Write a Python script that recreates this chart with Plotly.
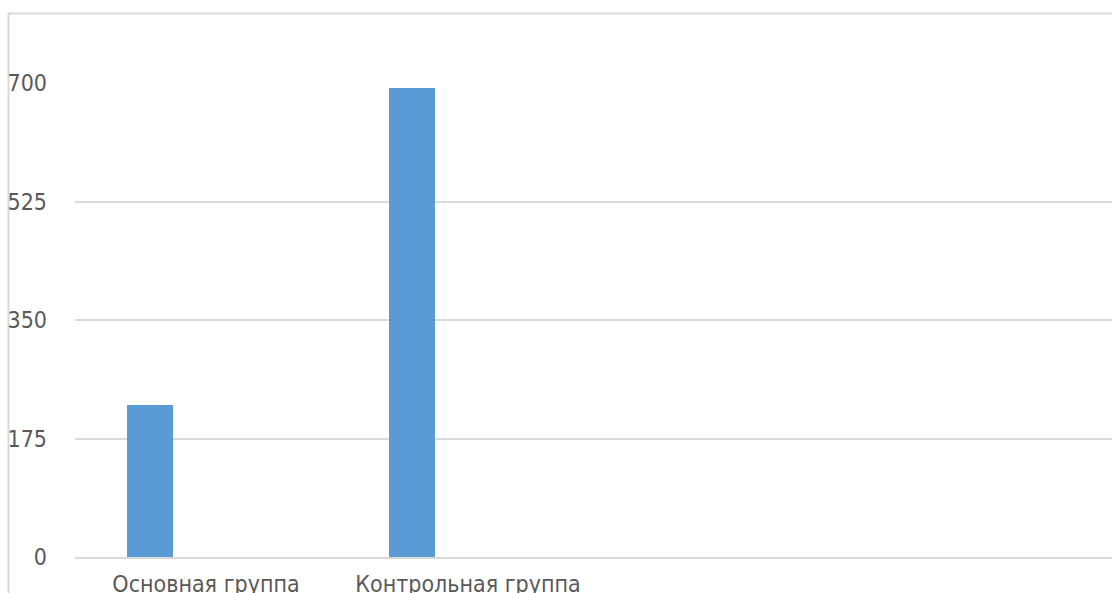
import plotly.graph_objects as go

# Data
categories = ["Основная группа", "Контрольная группа"]
values = [225, 693]
y_ticks = [0, 175, 350, 525, 700]

BAR_COLOR = "#5b9bd5"
GRID_COLOR = "#d9d9d9"
TEXT_COLOR = "#595959"
FONT = "DejaVu Sans Condensed, DejaVu Sans, sans-serif"
FONT_SIZE = 23

W, H = 1112, 593
ML, MR, MT, MB = 75, 0, 83, 36

fig = go.Figure()
fig.add_trace(go.Bar(
    x=categories,
    y=values,
    marker=dict(color=BAR_COLOR, line=dict(width=0)),
    width=0.176,
    offset=-0.302,
    hoverinfo="x+y",
))

plot_w = W - ML - MR
plot_h = H - MT - MB

# chart-area border (left and top edges visible)
fig.add_shape(
    type="rect", xref="paper", yref="paper",
    x0=(8.5 - ML) / plot_w, x1=(W + 20 - ML) / plot_w,
    y0=-(MB + 20) / plot_h, y1=(H - 13.5 - MB) / plot_h,
    line=dict(color=GRID_COLOR, width=2), layer="below",
)

fig.update_layout(
    width=W, height=H,
    margin=dict(l=ML, r=MR, t=MT, b=MB, pad=0, autoexpand=False),
    paper_bgcolor="white", plot_bgcolor="white",
    showlegend=False,
    font=dict(family=FONT, size=FONT_SIZE, color=TEXT_COLOR),
    xaxis=dict(
        type="category",
        categoryorder="array", categoryarray=categories,
        range=[-0.5, -0.5 + plot_w / 262.0],
        showgrid=False, zeroline=False,
        showline=True, linecolor=GRID_COLOR, linewidth=2,
        ticks="", ticklabelstandoff=5,
        tickfont=dict(family=FONT, size=FONT_SIZE, color=TEXT_COLOR),
        automargin=False,
        fixedrange=True,
    ),
    yaxis=dict(
        range=[0, 700],
        tickvals=y_ticks,
        ticktext=[str(v) for v in y_ticks],
        showgrid=True, gridcolor=GRID_COLOR, gridwidth=2,
        zeroline=False, showline=False,
        ticks="", ticklabelstandoff=27,
        tickfont=dict(family=FONT, size=FONT_SIZE, color=TEXT_COLOR),
        automargin=False,
        fixedrange=True,
    ),
    bargap=0,
)

fig.write_html("out.html")
